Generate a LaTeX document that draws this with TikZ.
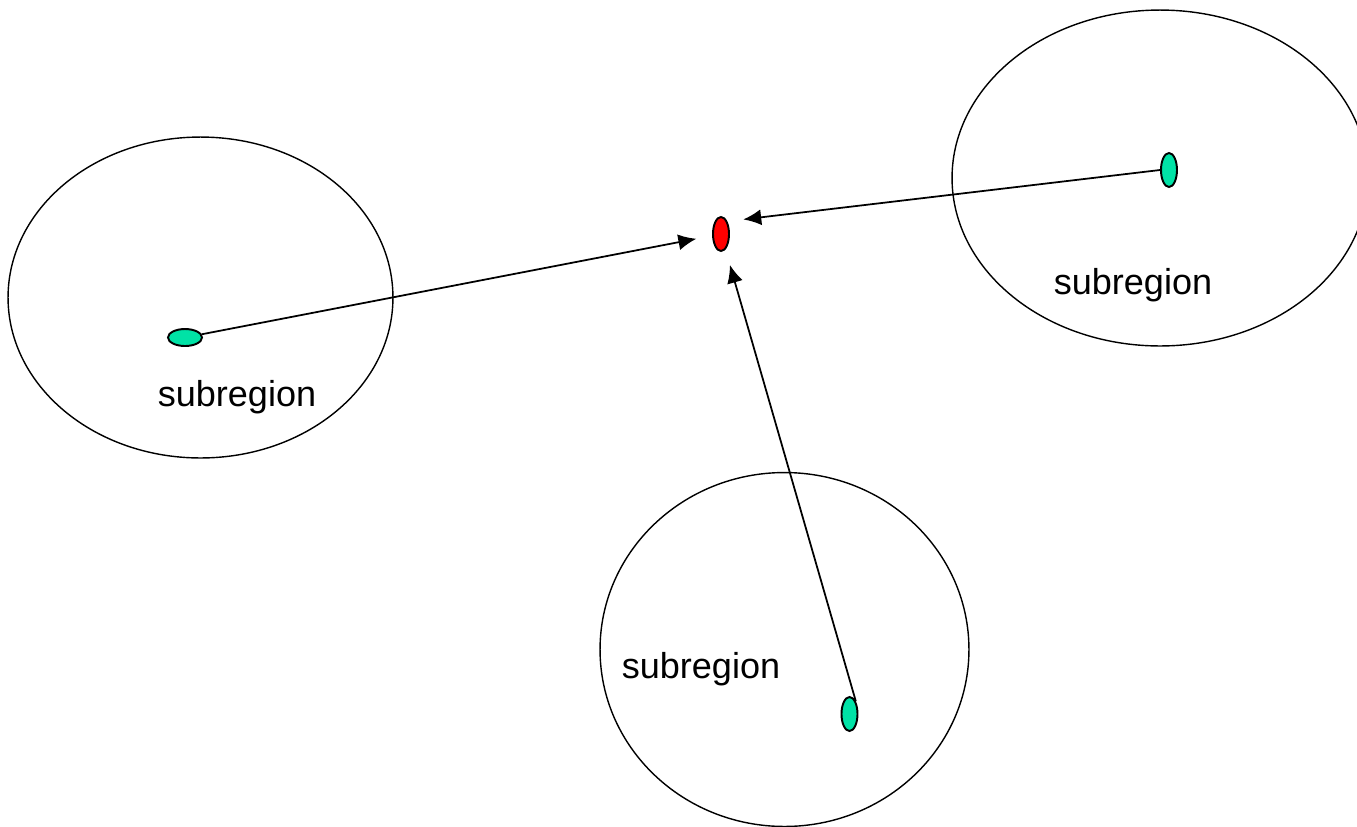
\documentclass[tikz,border=0pt]{standalone}
\usepackage{fontspec}
\setmainfont{Liberation Sans}
\usepackage{tikz}
\usetikzlibrary{shapes.geometric,arrows.meta}
\definecolor{srcGreen}{RGB}{0,226,166}
\definecolor{sinkRed}{RGB}{255,0,0}

\begin{document}
\begin{tikzpicture}[
    x=0.02cm, y=-0.02cm,
    region/.style={ellipse, draw, line width=0.8pt, inner sep=0pt},
    dot/.style={ellipse, draw, line width=1.1pt, inner sep=0pt, minimum width=0.32cm, minimum height=0.68cm},
    lbl/.style={font=\fontsize{20.5}{24}\selectfont, inner sep=0pt},
    arr/.style={-{Latex[length=0.36cm,width=0.32cm]}, line width=1pt, shorten >=0.32cm}
]
\useasboundingbox (0,0) rectangle (1357,826);
\clip (0,0) rectangle (1357,826);

% subregions
\node[region, minimum width=7.7cm, minimum height=6.42cm] (regL) at (200.5,297.5) {};
\node[region, minimum width=8.32cm, minimum height=6.72cm] (regR) at (1160,178) {};
\node[region, minimum width=7.38cm, minimum height=7.08cm] (regB) at (784.5,649.5) {};

\node[lbl] (lblL) at (237,397) {subregion};
\node[lbl] (lblR) at (1133,285) {subregion};
\node[lbl] (lblB) at (701,669) {subregion};

% centres
\node[dot, fill=sinkRed] (sink) at (721,234) {};
\node[dot, fill=srcGreen, minimum width=0.68cm, minimum height=0.34cm] (srcL) at (185,337.5) {};
\node[dot, fill=srcGreen] (srcR) at (1169,170) {};
\node[dot, fill=srcGreen] (srcB) at (849.5,714) {};

\draw[arr] (srcL) -- (sink);
\draw[arr] (srcR.west) -- (sink.north east);
\draw[arr] (srcB.north east) -- (sink);
\end{tikzpicture}
\end{document}
